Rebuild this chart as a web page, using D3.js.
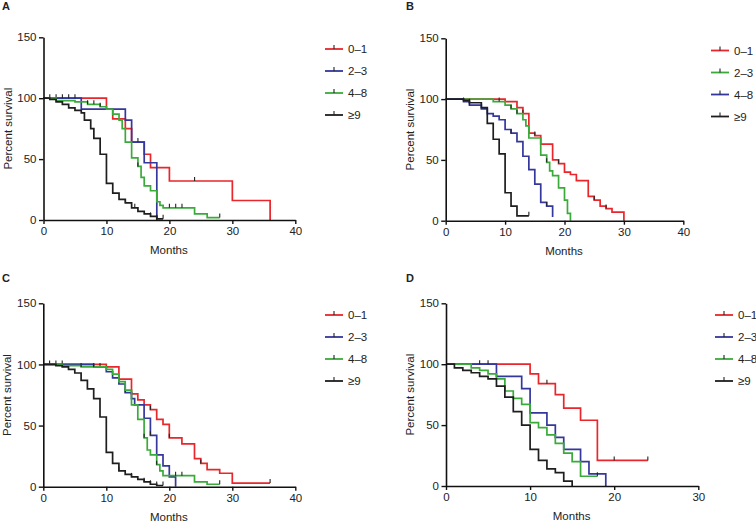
<!DOCTYPE html>
<html><head><meta charset="utf-8">
<script src="https://cdn.jsdelivr.net/npm/d3@7"></script>
<style>
body{margin:0;background:#fff}
svg{display:block}
text{font-family:"Liberation Sans",Arial,sans-serif;fill:#222}
</style></head>
<body><svg id="c" width="756" height="522"></svg>
<script>
// ---------- data ----------
const yTicks = [0, 50, 100, 150];
const xTicks40 = [0, 10, 20, 30, 40];
const xTicks30 = [0, 10, 20, 30];
const groupsA = ["0–1", "2–3", "4–8", "≥9"];
const groupsB = ["0–1", "2–3", "4–8", "≥9"];

// Panel A  [months, percent survival]
const aRed   = [[0,100],[10,91],[11,83],[13,75],[14,64],[16,54],[17,43],[20,32],[30,16],[36,0]];
const aBlue  = [[0,100],[6,91],[13,82],[14,64],[16,47],[18,0]];
const aGreen = [[0,100],[2,98],[5,97],[7,95],[9,93],[10,91],[11,87],[12,82],[12.5,75],[13,64],[14,51],[15,44],[15.5,35],[16,28],[17,24],[18,15],[18.5,12],[19,10],[24,5],[26,2],[28,2]];
const aBlack = [[0,100],[1,99],[2,97],[3,95],[4,92],[5,90],[6,88],[6.5,82],[7.5,75],[8,67],[9,54],[10,30],[11,22],[12,17],[13,14],[14,10],[15,7],[16,5],[17,3],[18,1],[19,1]];
const aRedC = [24], aBlueC = [1,2,3,4,5,15], aGreenC = [7,8,9,15,20,21,22,28], aBlackC = [13,14.5,17,18,19];

// Panel B
const bRed   = [[0,100],[10,98],[12,93],[13,88],[14,72],[15,70],[16,63],[18,50],[19,47],[20,40],[21,38],[22,33],[24,20],[25,17],[26,12],[27,10],[28,7],[30,0]];
const bGreen = [[0,100],[8,98],[10,95],[11,92],[12,88],[13,83],[13.5,78],[14,68],[16,54],[17,48],[17.5,41],[18,37],[19,27],[20,17],[20.5,6],[21,0]];
const bBlue  = [[0,100],[3,98],[4,95],[6,92],[7,88],[8,86],[9,83],[10,75],[11,72],[12,65],[13,53],[14,42],[15,30],[16,15],[17,12],[18,3]];
const bBlack = [[0,100],[3,99],[4,97],[6,93],[7,80],[8,67],[9,55],[10,23],[11,12],[12,4],[14,4]];
const bRedC = [13,15,19,25,27], bGreenC = [9,11,12,17], bBlueC = [3,4,11,17], bBlackC = [4,14];

// Panel C
const cRed   = [[0,100],[10,98],[12,88],[14,76],[15,71],[16,67],[17,63],[18,55],[19,51],[20,40],[22,35],[24,23],[25,19],[26,14],[28,11],[30,3],[36,3]];
const cBlue  = [[0,100],[8,98],[10,94],[11,89],[12,84],[13,77],[14,72],[14.5,67],[16,56],[17,42],[18,26],[19,17],[20,8],[21,0]];
const cGreen = [[0,100],[3,99],[6,98],[10,96],[11,92],[12,86],[13,79],[14,67],[15,55],[16,40],[16.5,30],[17,26],[18,18],[18.5,13],[19,9],[24,4],[26,2],[28,2]];
const cBlack = [[0,100],[2,99],[3,98],[4,96],[5,93],[6,87],[7,80],[8,72],[9,57],[10,28],[11,19],[12,13],[13,10],[14,8],[15,6],[16,4],[17,2],[18,1],[19,1]];
const cRedC = [14,17,20,25,36], cBlueC = [1,2,3,9,13,17], cGreenC = [6,8,16,18,21,22,28], cBlackC = [12,14,16,17,18,19];

// Panel D
const dRed   = [[0,100],[10,92],[11,84],[13,75],[14,64],[16,54],[18,21],[24,21]];
const dBlue  = [[0,100],[6,90],[9,80],[10,60],[12,50],[13,40],[14,30],[16,20],[17,10],[19,0]];
const dGreen = [[0,100],[3,97],[4,95],[5,92],[6,88],[7,78],[8,72],[9,67],[10,52],[11,48],[12,42],[13,35],[14,27],[15,20],[16,8],[18,8]];
const dBlack = [[0,100],[1,97],[2,95],[3,93],[4,90],[5,88],[6,82],[7,73],[8,61],[9,50],[10,30],[11,21],[12,14],[13,11],[14,4],[15,0]];
const dRedC = [12,20,24], dBlueC = [4,5], dGreenC = [18], dBlackC = [];

// ---------- style ----------
const RED = "#e8262b", BLUE = "#34379c", GREEN = "#3aab3a", BLACK = "#1e1e1e";

const panels = [
  {label:"A", lx:2, ly:10, x0:43.5, x1:295.3, yT:37.3, yB:220, xmax:40, xt:xTicks40, legX:325, legY:49,
   names:groupsA, series:[[aRed,aRedC,RED],[aBlue,aBlueC,BLUE],[aGreen,aGreenC,GREEN],[aBlack,aBlackC,BLACK]]},
  {label:"B", lx:406, ly:10, x0:445.7, x1:683.3, yT:38.3, yB:220.7, xmax:40, xt:xTicks40, legX:711, legY:50.5,
   names:groupsB, series:[[bRed,bRedC,RED],[bGreen,bGreenC,GREEN],[bBlue,bBlueC,BLUE],[bBlack,bBlackC,BLACK]]},
  {label:"C", lx:2, ly:282, x0:43.3, x1:295.3, yT:303.3, yB:486.7, xmax:40, xt:xTicks40, legX:325, legY:315,
   names:groupsA, series:[[cRed,cRedC,RED],[cBlue,cBlueC,BLUE],[cGreen,cGreenC,GREEN],[cBlack,cBlackC,BLACK]]},
  {label:"D", lx:406, ly:282, x0:446, x1:698.3, yT:303.3, yB:486, xmax:30, xt:xTicks30, legX:715, legY:315,
   names:groupsA, series:[[dRed,dRedC,RED],[dBlue,dBlueC,BLUE],[dGreen,dGreenC,GREEN],[dBlack,dBlackC,BLACK]]}
];
const legColorOrder = {A:[RED,BLUE,GREEN,BLACK], B:[RED,GREEN,BLUE,BLACK], C:[RED,BLUE,GREEN,BLACK], D:[RED,BLUE,GREEN,BLACK]};

const svg = d3.select("#c");
const FS = 11.5;

function survAt(data, t){
  let v = data[0][1];
  for (const p of data){ if (p[0] <= t + 1e-9) v = p[1]; }
  return v;
}

panels.forEach(P => {
  const g = svg.append("g");
  const x = d3.scaleLinear().domain([0, P.xmax]).range([P.x0, P.x1]);
  const y = d3.scaleLinear().domain([0, 150]).range([P.yB, P.yT]);

  g.append("text").attr("x", P.lx).attr("y", P.ly).attr("font-size", 11).attr("font-weight", "bold").text(P.label);

  // curves
  const line = d3.line().x(d => x(d[0])).y(d => y(d[1])).curve(d3.curveStepAfter);
  P.series.forEach(([data, cens, col]) => {
    g.append("path").datum(data).attr("d", line).attr("fill", "none")
      .attr("stroke", col).attr("stroke-width", 1.7).attr("stroke-linejoin", "miter");
    g.selectAll(null).data(cens).enter().append("line")
      .attr("x1", d => x(d)).attr("x2", d => x(d))
      .attr("y1", d => y(survAt(data, d))).attr("y2", d => y(survAt(data, d)) - 4)
      .attr("stroke", "#222").attr("stroke-width", 1.1);
  });

  // axes
  const ax = g.append("g").attr("transform", `translate(0,${P.yB})`)
    .call(d3.axisBottom(x).tickValues(P.xt).tickSize(4).tickSizeOuter(0).tickPadding(3));
  const ay = g.append("g").attr("transform", `translate(${P.x0},0)`)
    .call(d3.axisLeft(y).tickValues(yTicks).tickSize(4.5).tickSizeOuter(0).tickPadding(2.5));
  [ax, ay].forEach(a => {
    a.select(".domain").attr("stroke", "#111").attr("stroke-width", 1.6);
    a.selectAll(".tick line").attr("stroke", "#111").attr("stroke-width", 1.4);
    a.selectAll(".tick text").attr("font-size", FS).attr("fill", "#222")
      .attr("font-family", '"Liberation Sans",Arial,sans-serif');
  });

  g.append("text").attr("x", (P.x0 + P.x1) / 2 - 0.5).attr("y", P.yB + 34)
    .attr("text-anchor", "middle").attr("font-size", FS).text("Months");
  g.append("text").attr("transform", `translate(${P.x0 - 32},${(P.yT + P.yB) / 2}) rotate(-90)`)
    .attr("text-anchor", "middle").attr("font-size", FS).text("Percent survival");

  // legend
  const cols = legColorOrder[P.label];
  P.names.forEach((nm, i) => {
    const yy = P.legY + i * 22;
    g.append("line").attr("x1", P.legX).attr("x2", P.legX + 18).attr("y1", yy).attr("y2", yy)
      .attr("stroke", cols[i]).attr("stroke-width", 1.8);
    g.append("line").attr("x1", P.legX + 9).attr("x2", P.legX + 9).attr("y1", yy).attr("y2", yy - 4)
      .attr("stroke", "#222").attr("stroke-width", 1.1);
    g.append("text").attr("x", P.legX + 23).attr("y", yy + 4).attr("font-size", FS).text(nm);
  });
});
</script></body></html>
